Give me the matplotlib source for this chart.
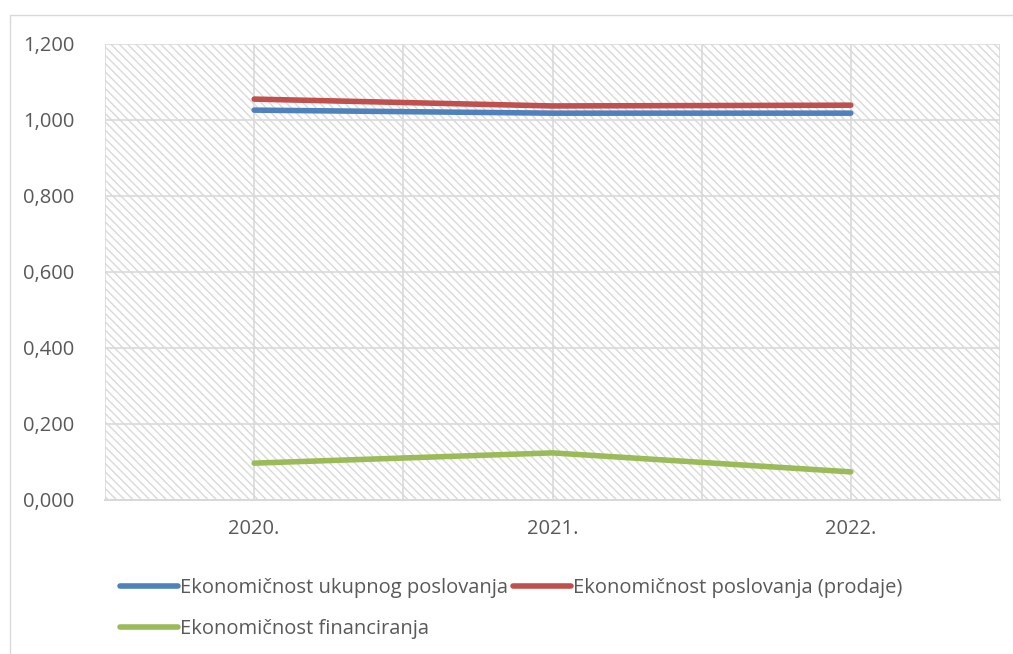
import matplotlib.pyplot as plt
import matplotlib.patches as mpatches
from matplotlib.ticker import FuncFormatter, MultipleLocator
import numpy as np

plt.rcParams['font.family'] = ['Open Sans', 'DejaVu Sans']
plt.rcParams['hatch.color'] = '#e2e2e2'
plt.rcParams['hatch.linewidth'] = 1.0

godine = ['2020.', '2021.', '2022.']
ukupno = [1.026, 1.018, 1.018]
prodaja = [1.055, 1.037, 1.039]
financiranje = [0.097, 0.124, 0.074]

siva = '#595959'
mreza = '#d9d9d9'

fig = plt.figure(figsize=(10.13, 6.54), dpi=100)
# okvir grafikona
fig.patches.append(mpatches.Rectangle((10 / 1013, -0.01), 1.0, 1 - 15 / 654 + 0.01,
                                      transform=fig.transFigure, fill=False,
                                      edgecolor=mreza, linewidth=1.0))

ax = fig.add_axes([105 / 1013, 1 - 500 / 654, 895 / 1013, 456 / 654])
x = np.arange(len(godine))

# šrafura pozadine
ax.add_patch(mpatches.Rectangle((0, 0), 1, 1, transform=ax.transAxes, facecolor='white',
                                edgecolor=mreza, hatch='\\\\\\\\', linewidth=0, zorder=0))

l1, = ax.plot(x, ukupno, color='#4f81bd', lw=4, solid_capstyle='round', label='Ekonomičnost ukupnog poslovanja', zorder=3)
l2, = ax.plot(x, prodaja, color='#c0504d', lw=4, solid_capstyle='round', label='Ekonomičnost poslovanja (prodaje)', zorder=3)
l3, = ax.plot(x, financiranje, color='#9bbb59', lw=4, solid_capstyle='round', label='Ekonomičnost financiranja', zorder=3)

ax.set_xlim(-0.5, 2.5)
ax.set_ylim(0, 1.2)
ax.yaxis.set_major_locator(MultipleLocator(0.2))
ax.yaxis.set_major_formatter(FuncFormatter(lambda v, p: f'{v:.3f}'.replace('.', ',')))
ax.set_xticks(x)
ax.set_xticklabels(godine)
ax.set_xticks(np.arange(-0.5, 2.6, 0.5), minor=True)
ax.grid(True, which='minor', axis='x', color=mreza, lw=1.2, zorder=1)
ax.grid(True, which='major', axis='x', color=mreza, lw=1.2, zorder=1)
ax.grid(True, which='major', axis='y', color=mreza, lw=1.2, zorder=1)
ax.set_axisbelow(True)
for s in ['left', 'right', 'top']:
    ax.spines[s].set_visible(False)
ax.spines['bottom'].set_color(mreza)
ax.spines['bottom'].set_linewidth(1.5)
ax.tick_params(which='both', length=0, colors=siva, labelsize=14.5)
ax.tick_params(axis='y', pad=22)
ax.tick_params(axis='x', pad=14)

# redoslijed po redovima kao u Excelu
leg = fig.legend([l1, l3, l2], [l1.get_label(), l3.get_label(), l2.get_label()],
                 loc='upper left', bbox_to_anchor=(112 / 1013, 1 - 570 / 654), ncol=2,
                 frameon=False, fontsize=14.5, handlelength=2.9, handletextpad=0.1,
                 columnspacing=0.2, labelspacing=1.05, borderaxespad=0)
for t in leg.get_texts():
    t.set_color(siva)

fig.savefig('out.png', dpi=100)
